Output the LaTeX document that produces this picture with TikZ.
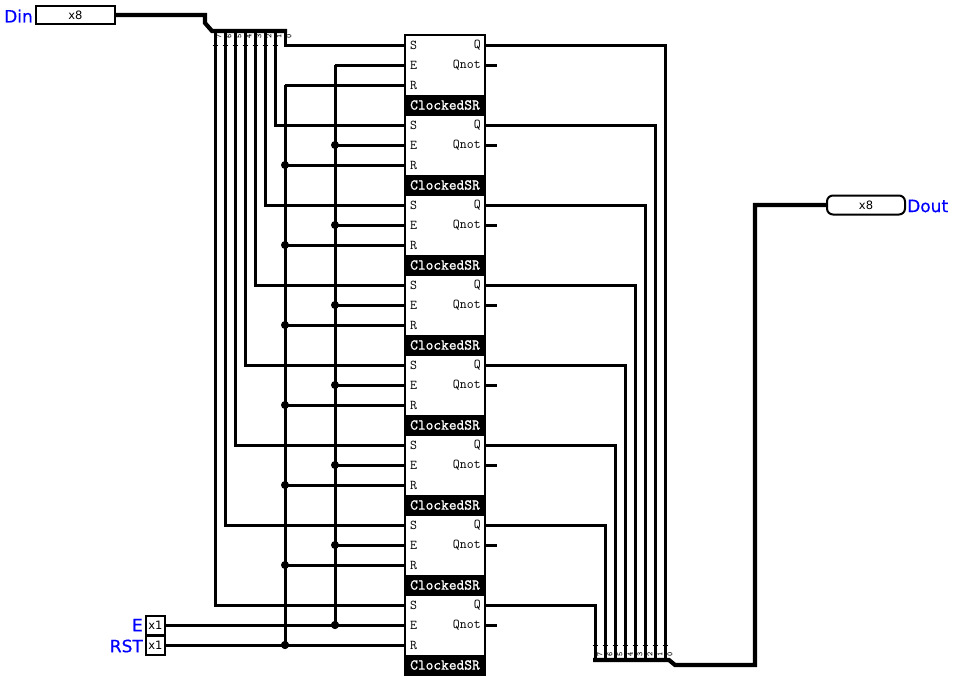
\documentclass[tikz,border=0pt]{standalone}
\usepackage{fontspec}
\setmainfont{DejaVu Sans}
\newfontfamily\extfont[FakeBold=0.6]{DejaVu Sans}
\newfontfamily\slabfont[FakeBold=1.2]{Latin Modern Mono}
\definecolor{lblue}{RGB}{0,0,255}
\tikzset{
  wire/.style={line width=3pt,line join=miter},
  bus/.style={line width=4.2pt,line join=miter},
  stub/.style={line width=3pt},
  tick/.style={line width=0.8pt},
  block/.style={draw,line width=2pt,fill=white,minimum width=80pt,minimum height=80pt,inner sep=0pt,outer sep=0pt,anchor=north west},
  band/.style={fill=black,text=white,minimum width=82pt,minimum height=20pt,inner sep=0pt,outer sep=0pt,font=\slabfont\fontsize{15}{15}\selectfont},
  pin/.style={font=\ttfamily\fontsize{13.5}{13.5}\selectfont,inner sep=0pt},
  tiny/.style={font=\ttfamily\bfseries\fontsize{8}{8}\selectfont,inner sep=0pt,rotate=90},
  io/.style={draw,line width=2pt,fill=white,inner sep=0pt,outer sep=0pt,anchor=west,font=\fontsize{11.5}{11.5}\selectfont},
  ext/.style={text=lblue,font=\extfont\fontsize{17}{17}\selectfont,inner sep=0pt},
  joint/.style={circle,fill=black,inner sep=0pt,minimum size=8pt}
}
\begin{document}
\begin{tikzpicture}[x=1pt,y=-1pt]
\useasboundingbox[fill=white] (0,0) rectangle (955,681);
\coordinate (busA) at (205,15);
\coordinate (busB) at (205,23);
\coordinate (busC) at (212,31);
\coordinate (busD) at (287,31);
\coordinate (busL) at (593,660);
\coordinate (busM) at (669,660);
\coordinate (busN) at (675,665);
\coordinate (busO) at (755,665);
\coordinate (busP) at (755,205);
\coordinate (vE) at (335,65);
\coordinate (vR) at (285,85);
\coordinate (vEb) at (335,625);
\coordinate (vRb) at (285,645);
\foreach \i [evaluate=\i as \t using int(35+80*\i),
             evaluate=\i as \sy using int(45+80*\i),
             evaluate=\i as \ey using int(65+80*\i),
             evaluate=\i as \ry using int(85+80*\i),
             evaluate=\i as \by using int(105+80*\i),
             evaluate=\i as \sx using int(285-10*\i),
             evaluate=\i as \qx using int(665-10*\i)] in {0,...,7}{
  \coordinate (S\i) at (405,\sy);
  \coordinate (E\i) at (405,\ey);
  \coordinate (R\i) at (405,\ry);
  \coordinate (Q\i) at (485,\sy);
  \coordinate (N\i) at (485,\ey);
  \coordinate (Nend\i) at (497,\ey);
  \coordinate (ST\i) at (\sx,31);
  \coordinate (SC\i) at (\sx,\sy);
  \coordinate (QC\i) at (\qx,\sy);
  \coordinate (QB\i) at (\qx,660);
  \coordinate (JE\i) at (335,\ey);
  \coordinate (JR\i) at (285,\ry);
  \draw[wire] (ST\i) -- (SC\i) -- (S\i);
  \draw[wire] (Q\i) -- (QC\i) -- (QB\i);
  \draw[stub] (N\i) -- (Nend\i);
  \draw[wire] (JE\i) -- (E\i);
  \draw[wire] (JR\i) -- (R\i);
  \node[block] (b\i) at (405,\t) {};
  \node[band] (l\i) at (445,\by) {ClockedSR};
  \node[pin,anchor=west] (ps\i) at (410,\sy) {S};
  \node[pin,anchor=west] (pe\i) at (410,\ey) {E};
  \node[pin,anchor=west] (pr\i) at (410,\ry) {R};
  \node[pin,anchor=east] (pq\i) at (481,\sy) {Q};
  \node[pin,anchor=east] (pn\i) at (481,\ey) {Qnot};
}
\node[io,minimum width=79pt,minimum height=18.5pt] (din) at (36,15) {x8};
\node[ext,anchor=east] (dinl) at (33,16) {Din};
\draw[bus] (din.east) -- (busA) -- (busB) -- (busC) -- (busD);
\node[io,minimum width=19pt,minimum height=19.5pt] (ein) at (146,625.5) {x1};
\node[io,minimum width=19pt,minimum height=19.5pt] (rin) at (146,645.5) {x1};
\coordinate (eo) at (165,625);
\coordinate (ro) at (165,645);
\node[ext,anchor=east] (el) at (143,625) {E};
\node[ext,anchor=east] (rl) at (143,646) {RST};
\draw[wire] (eo) -- (E7);
\draw[wire] (ro) -- (R7);
\draw[wire] (vE) -- (vEb);
\draw[wire] (vR) -- (vRb);
\foreach \i in {1,...,7}{
  \node[joint] (je\i) at (JE\i) {};
  \node[joint] (jr\i) at (JR\i) {};
}
\node[joint] (je8) at (vEb) {};
\node[joint] (jr8) at (vRb) {};
\node[io,rounded corners=6pt,minimum width=78pt,minimum height=19pt] (dout) at (827,205) {x8};
\node[ext,anchor=west] (doutl) at (907,206) {Dout};
\draw[bus] (busL) -- (busM) -- (busN) -- (busO) -- (busP) -- (dout.west);
\foreach \i in {0,...,7}{
  \pgfmathtruncatemacro{\tx}{289-10*\i}
  \pgfmathtruncatemacro{\bx}{670-10*\i}
  \pgfmathtruncatemacro{\wx}{285-10*\i}
  \pgfmathtruncatemacro{\qx}{665-10*\i}
  \node[tiny] (tt\i) at (\tx,36.5) {\i};
  \node[tiny] (tb\i) at (\bx,654) {\i};
  \ifnum\i>0 \draw[tick] (\wx-2.5,45) -- (\wx+2.5,45); \fi
  \draw[tick] (\qx-2.5,645) -- (\qx+2.5,645);
}
\end{tikzpicture}
\end{document}
